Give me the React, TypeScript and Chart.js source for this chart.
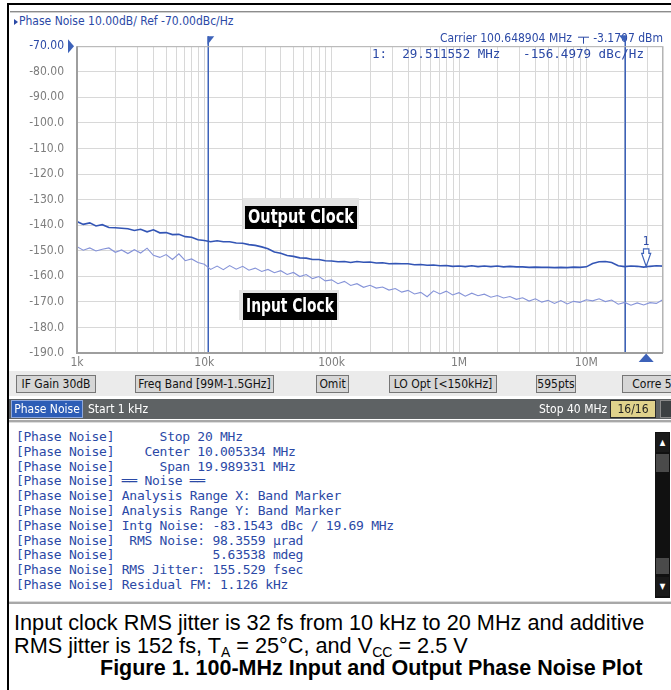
import React, { useEffect, useRef } from "react";
import { Chart, registerables } from "chart.js";
Chart.register(...registerables);

// ---------- data ----------
const freqHz = [
  1000, 1120, 1260, 1410, 1580, 1780, 2000, 2240, 2510, 2820, 3160, 3550, 3980, 4470, 5010, 5620, 6310, 7080, 7940, 8910,
  10000, 11200, 12600, 14100, 15800, 17800, 20000, 22400, 25100, 28200, 31600, 35500, 39800, 44700, 50100, 56200, 63100, 70800, 79400, 89100,
  100000, 112000, 126000, 141000, 158000, 178000, 200000, 224000, 251000, 282000, 316000, 355000, 398000, 447000, 501000, 562000, 631000, 708000, 794000, 891000,
  1000000, 1120000, 1260000, 1410000, 1580000, 1780000, 2000000, 2240000, 2510000, 2820000, 3160000, 3550000, 3980000, 4470000, 5010000, 5620000, 6310000, 7080000, 7940000, 8910000,
  10000000, 11200000, 12600000, 14100000, 15800000, 17800000, 20000000, 22400000, 25100000, 28200000, 31600000, 35500000, 39800000, 40000000,
];

const outputClockDbc = [
  -138.6, -139.7, -139.1, -140.3, -139.8, -140.9, -141.0, -141.2, -141.4, -142.1, -141.6, -142.6, -141.8, -143.0, -142.9, -143.7, -143.6, -144.5, -144.7, -145.7,
  -146.0, -146.5, -146.1, -146.5, -146.5, -147.0, -147.1, -147.6, -147.9, -148.5, -149.2, -150.5, -151.0, -151.9, -152.2, -152.8, -152.9, -153.4, -153.4, -153.9,
  -154.0, -154.3, -154.2, -154.6, -154.2, -154.5, -154.4, -154.8, -154.7, -155.1, -155.0, -155.1, -155.1, -155.5, -155.4, -155.7, -155.6, -155.9, -155.8, -156.1,
  -156.0, -156.2, -155.9, -156.2, -156.0, -156.2, -156.0, -156.3, -156.1, -156.3, -156.3, -156.5, -156.4, -156.5, -156.5, -156.6, -156.5, -156.6, -156.4, -156.5,
  -156.3, -155.0, -154.3, -154.2, -154.6, -155.9, -156.2, -156.0, -156.1, -156.4, -156.1, -155.9, -156.0, -152.5,
];

const inputClockDbc = [
  -148.4, -149.8, -148.9, -150.1, -149.4, -148.9, -150.6, -149.7, -151.1, -149.6, -150.9, -149.0, -151.8, -152.6, -151.5, -153.4, -151.2, -153.9, -153.2, -154.6,
  -155.3, -157.3, -156.0, -157.4, -155.8, -157.2, -156.1, -157.6, -156.8, -158.1, -157.3, -158.6, -157.8, -159.3, -158.5, -160.1, -159.3, -160.9, -160.1, -161.8,
  -161.4, -162.9, -162.0, -163.6, -162.9, -164.3, -163.5, -164.6, -164.2, -165.4, -164.8, -166.2, -165.5, -166.9, -166.3, -168.0, -165.7, -166.9, -165.8, -167.3,
  -166.4, -167.8, -166.6, -167.6, -167.0, -168.2, -167.5, -168.5, -167.9, -169.0, -168.4, -169.7, -168.8, -170.1, -169.4, -170.6, -169.5, -170.8, -169.8, -170.2,
  -169.2, -169.6, -168.8, -169.9, -169.3, -170.9, -170.2, -171.3, -170.4, -171.2, -170.3, -170.6, -169.2, -168.1,
];

const xDecades = [1e3, 1e4, 1e5, 1e6, 1e7];
const xDecadeLabels = ["1k", "10k", "100k", "1M", "10M"];
const gridMultipliers = [1, 2, 3, 4, 5, 6, 7, 8, 9];
const xMinHz = 1e3;
const xMaxHz = 4e7;
const yMinDbc = -190;
const yMaxDbc = -70;
const yStepDb = 10;

const bandStartHz = 10670;
const bandStopHz = 20e6;
const marker1Hz = 29511552;
const marker1Dbc = -156.4979;
const refLevelDbc = -70;
const outputLabelAnchor = [20770, -132.34];
const inputLabelAnchor = [20000, -166.62];

const titleText = "Phase Noise 10.00dB/ Ref -70.00dBc/Hz";
const carrierText = "Carrier 100.648904 MHz";
const carrierPower = "-3.1707 dBm";
const markerReadout = "1:  29.511552 MHz   -156.4979 dBc/Hz";

const buttonLabels = ["IF Gain 30dB", "Freq Band [99M-1.5GHz]", "Omit", "LO Opt [<150kHz]", "595pts", "Corre 5"];

const consoleLines = [
  "[Phase Noise]      Stop 20 MHz",
  "[Phase Noise]    Center 10.005334 MHz",
  "[Phase Noise]      Span 19.989331 MHz",
  "[Phase Noise] \u2550\u2550 Noise \u2550\u2550",
  "[Phase Noise] Analysis Range X: Band Marker",
  "[Phase Noise] Analysis Range Y: Band Marker",
  "[Phase Noise] Intg Noise: -83.1543 dBc / 19.69 MHz",
  "[Phase Noise]  RMS Noise: 98.3559 \u00b5rad",
  "[Phase Noise]             5.63538 mdeg",
  "[Phase Noise] RMS Jitter: 155.529 fsec",
  "[Phase Noise] Residual FM: 1.126 kHz",
];

// ---------- style ----------
const UI_FONT = '"DejaVu Sans Condensed", "DejaVu Sans", sans-serif';
const MONO_FONT = '"DejaVu Sans Mono", "Liberation Mono", monospace';
const BLUE_TEXT = "#2b49a6";
const OUT_COLOR = "#3355b5";
const IN_COLOR = "#8593d8";
const MARK_BLUE = "#3d62b9";

const overlayPlugin = {
  id: "overlay",
  beforeDatasetsDraw(chart: any) {
    const { ctx, chartArea: a, scales } = chart;
    const x = scales.x;
    ctx.save();
    ctx.strokeStyle = MARK_BLUE;
    ctx.lineWidth = 1.5;
    [bandStartHz, bandStopHz].forEach((f) => {
      const px = Math.round(x.getPixelForValue(f)) + 0.25;
      ctx.beginPath();
      ctx.moveTo(px, a.top - 10);
      ctx.lineTo(px, a.bottom);
      ctx.stroke();
    });
    ctx.restore();
  },
  afterDraw(chart: any) {
    const { ctx, chartArea: a, scales } = chart;
    const x = scales.x;
    const y = scales.y;
    ctx.save();
    // frame
    ctx.strokeStyle = "#b4b4b4";
    ctx.lineWidth = 1;
    ctx.strokeRect(a.left + 0.5, a.top + 0.5, a.right - a.left - 1, a.bottom - a.top - 1);
    ctx.strokeStyle = "#9e9e9e";
    ctx.lineWidth = 2;
    ctx.beginPath();
    ctx.moveTo(a.left, a.top);
    ctx.lineTo(a.left, a.bottom);
    ctx.lineTo(a.right, a.bottom);
    ctx.stroke();

    // reference level marker
    const yr = y.getPixelForValue(refLevelDbc);
    ctx.fillStyle = MARK_BLUE;
    ctx.beginPath();
    ctx.moveTo(a.left - 9, yr - 7);
    ctx.lineTo(a.left - 3, yr);
    ctx.lineTo(a.left - 9, yr + 7);
    ctx.closePath();
    ctx.fill();

    // carrier text
    ctx.fillStyle = BLUE_TEXT;
    ctx.font = '12px ' + UI_FONT;
    ctx.textBaseline = "middle";
    ctx.textAlign = "right";
    const cy = a.top - 7.5;
    ctx.fillText(carrierPower, a.right, cy);
    ctx.fillText(carrierText, a.right - 91, cy);
    ctx.strokeStyle = BLUE_TEXT;
    ctx.lineWidth = 1;
    ctx.beginPath();
    ctx.moveTo(a.right - 85, cy - 1.5);
    ctx.lineTo(a.right - 74, cy - 1.5);
    ctx.moveTo(a.right - 79.5, cy - 1.5);
    ctx.lineTo(a.right - 79.5, cy + 5);
    ctx.stroke();

    // marker readout
    ctx.font = '12.55px ' + MONO_FONT;
    ctx.textAlign = "left";
    ctx.fillText(markerReadout, a.left + 295, a.top + 9);

    // band marker flags
    ctx.fillStyle = MARK_BLUE;
    const xs = Math.round(x.getPixelForValue(bandStartHz)) + 0.25;
    ctx.beginPath();
    ctx.moveTo(xs - 0.75, a.top - 10);
    ctx.lineTo(xs + 6, a.top - 10);
    ctx.lineTo(xs - 0.75, a.top - 1.5);
    ctx.closePath();
    ctx.fill();
    const xe = Math.round(x.getPixelForValue(bandStopHz)) + 0.25;
    ctx.beginPath();
    ctx.moveTo(xe - 6.5, a.top - 11);
    ctx.lineTo(xe + 1, a.top - 11);
    ctx.lineTo(xe + 0.5, a.top - 3);
    ctx.closePath();
    ctx.fill();

    // marker 1
    const xm = x.getPixelForValue(marker1Hz);
    const ym = y.getPixelForValue(marker1Dbc);
    ctx.fillStyle = "#ffffff";
    ctx.strokeStyle = MARK_BLUE;
    ctx.lineWidth = 1.2;
    ctx.beginPath();
    ctx.moveTo(xm - 2.7, ym - 18.5);
    ctx.lineTo(xm + 2.7, ym - 18.5);
    ctx.lineTo(xm + 2.7, ym - 14);
    ctx.lineTo(xm + 4.5, ym - 14);
    ctx.lineTo(xm, ym - 1);
    ctx.lineTo(xm - 4.5, ym - 14);
    ctx.lineTo(xm - 2.7, ym - 14);
    ctx.closePath();
    ctx.fill();
    ctx.stroke();
    ctx.fillStyle = BLUE_TEXT;
    ctx.font = '12px ' + UI_FONT;
    ctx.textAlign = "center";
    ctx.fillText("1", xm, ym - 25);
    ctx.fillStyle = MARK_BLUE;
    ctx.beginPath();
    ctx.moveTo(xm, a.bottom + 0.5);
    ctx.lineTo(xm + 7.5, a.bottom + 9);
    ctx.lineTo(xm - 7.5, a.bottom + 9);
    ctx.closePath();
    ctx.fill();

    // trace labels
    const drawLabel = (text: string, anchor: number[], w: number, h: number, tw: number, back: number[]) => {
      const lx = Math.round(x.getPixelForValue(anchor[0]));
      const ly = Math.round(y.getPixelForValue(anchor[1]));
      ctx.fillStyle = "#e4e4e4";
      ctx.fillRect(lx + back[0], ly + back[1], back[2], back[3]);
      ctx.fillStyle = "#000000";
      ctx.fillRect(lx, ly, w, h);
      ctx.font = 'bold 20px "Liberation Sans Narrow", ' + UI_FONT;
      const mw = ctx.measureText(text).width;
      ctx.save();
      ctx.translate(lx + (w - tw) / 2, ly + h / 2 + 0.5);
      ctx.scale(tw / mw, 1);
      ctx.fillStyle = "#ffffff";
      ctx.textAlign = "left";
      ctx.textBaseline = "middle";
      ctx.fillText(text, 0, 0);
      ctx.restore();
    };
    drawLabel("Output Clock", outputLabelAnchor, 112, 23, 106, [-2, -8, 116, 31]);
    drawLabel("Input Clock", inputLabelAnchor, 94, 27, 88, [-4, -3, 100, 30]);

    ctx.restore();
  },
};

export default function App() {
  const canvasRef = useRef<HTMLCanvasElement>(null);

  useEffect(() => {
    const canvas = canvasRef.current;
    if (!canvas) return;
    const gridValues: number[] = [];
    xDecades.forEach((d) => gridMultipliers.forEach((m) => {
      const v = d * m;
      if (v >= xMinHz && v <= xMaxHz) gridValues.push(v);
    }));
    const chart = new Chart(canvas, {
      type: "line",
      data: {
        datasets: [
          {
            label: "Output Clock",
            data: freqHz.map((f, i) => ({ x: f, y: outputClockDbc[i] })),
            borderColor: OUT_COLOR,
            borderWidth: 1.6,
            pointRadius: 0,
            tension: 0,
          },
          {
            label: "Input Clock",
            data: freqHz.map((f, i) => ({ x: f, y: inputClockDbc[i] })),
            borderColor: IN_COLOR,
            borderWidth: 1.1,
            pointRadius: 0,
            tension: 0,
          },
        ],
      },
      options: {
        animation: false,
        responsive: false,
        devicePixelRatio: 1,
        layout: { padding: { top: 19, right: 8, bottom: 1, left: 0 } },
        plugins: { legend: { display: false }, tooltip: { enabled: false }, title: { display: false } },
        scales: {
          x: {
            type: "logarithmic",
            min: xMinHz,
            max: xMaxHz,
            afterBuildTicks: (scale: any) => {
              scale.ticks = gridValues.map((v) => ({ value: v }));
            },
            afterFit: (scale: any) => {
              scale.height = 20;
            },
            ticks: {
              autoSkip: false,
              maxRotation: 0,
              minRotation: 0,
              padding: 3,
              color: "#7d7d7d",
              font: { family: UI_FONT, size: 12 },
              callback: (value: any) => {
                const idx = xDecades.indexOf(Number(value));
                return idx >= 0 ? xDecadeLabels[idx] : "";
              },
            },
            grid: { color: "#d8d8d8", lineWidth: 1, drawTicks: false },
            border: { display: false },
          },
          y: {
            type: "linear",
            min: yMinDbc,
            max: yMaxDbc,
            afterFit: (scale: any) => {
              scale.width = 69;
            },
            ticks: {
              stepSize: yStepDb,
              padding: 13,
              color: (c: any) => (c.tick && c.tick.value === refLevelDbc ? BLUE_TEXT : "#7d7d7d"),
              font: { family: UI_FONT, size: 12 },
              callback: (value: any) => {
                const v = Number(value);
                return v > -100 ? v.toFixed(2) : v.toFixed(1);
              },
            },
            grid: { color: "#d8d8d8", lineWidth: 1, drawTicks: false },
            border: { display: false },
          },
        },
      },
      plugins: [overlayPlugin],
    } as any);
    return () => chart.destroy();
  }, []);

  const btnPos = [
    [16, 80],
    [135, 139],
    [316, 33],
    [389, 108],
    [536, 40],
    [622, 60],
  ];

  return (
    <div style={{ position: "absolute", left: 0, top: 0, width: 671, height: 690, background: "#fff", overflow: "hidden", fontFamily: UI_FONT }}>
      {/* outer frame */}
      <div style={{ position: "absolute", left: 7, top: 3, width: 680, height: 2, background: "#000" }} />
      <div style={{ position: "absolute", left: 7, top: 3, width: 2, height: 700, background: "#000" }} />
      <div style={{ position: "absolute", left: 10, top: 11, width: 670, height: 1, background: "#8c8c8c" }} />
      <div style={{ position: "absolute", left: 10, top: 12, width: 670, height: 1, background: "#d0d0d0" }} />

      {/* title */}
      <div style={{ position: "absolute", left: 14, top: 14, height: 14, lineHeight: "14px", fontSize: 12, color: BLUE_TEXT, whiteSpace: "nowrap" }}>
        <span style={{ display: "inline-block", width: 0, height: 0, borderLeft: "4.5px solid " + BLUE_TEXT, borderTop: "3.5px solid transparent", borderBottom: "3.5px solid transparent", marginRight: 1, verticalAlign: "0px" }} />
        {titleText}
      </div>

      <canvas ref={canvasRef} width={663} height={348} style={{ position: "absolute", left: 8, top: 26, width: 663, height: 348 }} />

      {/* button row */}
      <div style={{ position: "absolute", left: 9, top: 371, width: 670, height: 25, background: "#ebebeb" }} />
      {buttonLabels.map((b, i) => (
        <div key={b} style={{ position: "absolute", left: btnPos[i][0], top: 375, width: btnPos[i][1], height: 18, boxSizing: "border-box", border: "1px solid #767676", background: "#d6d6d6", fontSize: 12, lineHeight: "16px", textAlign: "center", color: "#111", whiteSpace: "nowrap", overflow: "hidden" }}>
          {b}
        </div>
      ))}

      {/* status bar */}
      <div style={{ position: "absolute", left: 9, top: 399, width: 670, height: 20, background: "#5e6264" }} />
      <div style={{ position: "absolute", left: 11, top: 400, width: 72, height: 18, boxSizing: "border-box", border: "1px solid #8fa8dc", background: "#2d5db6", color: "#fff", fontSize: 12, lineHeight: "16px", textAlign: "center", whiteSpace: "nowrap" }}>Phase Noise</div>
      <div style={{ position: "absolute", left: 88, top: 400, height: 18, color: "#fff", fontSize: 12, lineHeight: "18px", whiteSpace: "nowrap" }}>Start 1 kHz</div>
      <div style={{ position: "absolute", left: 539, top: 400, height: 18, color: "#fff", fontSize: 12, lineHeight: "18px", whiteSpace: "nowrap" }}>Stop 40 MHz</div>
      <div style={{ position: "absolute", left: 610, top: 400, width: 46, height: 18, boxSizing: "border-box", border: "1px solid #2a2a2a", background: "#e0d28c", color: "#222", fontSize: 12, lineHeight: "16px", textAlign: "center" }}>16/16</div>
      <div style={{ position: "absolute", left: 660, top: 400, width: 14, height: 18, boxSizing: "border-box", border: "1px solid #8a8a8a", background: "#3c4042" }} />

      {/* console */}
      <div style={{ position: "absolute", left: 9, top: 420, width: 670, height: 2, background: "#a8a8a8" }} />
      <div style={{ position: "absolute", left: 9, top: 422, width: 670, height: 1, background: "#dcdcdc" }} />
      <div style={{ position: "absolute", left: 16, top: 430, fontFamily: MONO_FONT, fontSize: 13, letterSpacing: "-0.27px", lineHeight: "14.8px", color: BLUE_TEXT, whiteSpace: "pre" }}>
        {consoleLines.map((l, i) => (
          <div key={i}>{l}</div>
        ))}
      </div>
      <div style={{ position: "absolute", left: 655, top: 432, width: 15, height: 166, background: "#111" }}>
        <div style={{ position: "absolute", left: 1, top: 1, width: 13, height: 19, background: "#1a1a1a", color: "#fff", fontSize: 8, lineHeight: "19px", textAlign: "center" }}>{"\u25B2"}</div>
        <div style={{ position: "absolute", left: 1, top: 22, width: 13, height: 18, background: "#4a4a4a" }} />
        <div style={{ position: "absolute", left: 1, top: 126, width: 13, height: 16, background: "#4a4a4a" }} />
        <div style={{ position: "absolute", left: 1, top: 145, width: 13, height: 19, background: "#1a1a1a", color: "#fff", fontSize: 8, lineHeight: "19px", textAlign: "center" }}>{"\u25BC"}</div>
      </div>
      <div style={{ position: "absolute", left: 9, top: 601, width: 670, height: 1, background: "#dcdcdc" }} />
      <div style={{ position: "absolute", left: 9, top: 602, width: 670, height: 2, background: "#a8a8a8" }} />

      {/* caption */}
      <div style={{ position: "absolute", left: 14, top: 611, fontFamily: '"Liberation Sans", Arial, sans-serif', fontSize: 21.7, lineHeight: "23px", color: "#000", whiteSpace: "nowrap" }}>
        <div>Input clock RMS jitter is 32 fs from 10 kHz to 20 MHz and additive</div>
        <div>
          RMS jitter is 152 fs, T<sub style={{ fontSize: 14, verticalAlign: "-4px", lineHeight: 0 }}>A</sub> = 25°C, and V<sub style={{ fontSize: 14, verticalAlign: "-4px", lineHeight: 0 }}>CC</sub> = 2.5 V
        </div>
      </div>
      <div style={{ position: "absolute", left: 100, top: 657, fontFamily: '"Liberation Sans", Arial, sans-serif', fontWeight: "bold", fontSize: 21.5, lineHeight: "23px", color: "#000", whiteSpace: "nowrap" }}>
        Figure 1. 100-MHz Input and Output Phase Noise Plot
      </div>
    </div>
  );
}
